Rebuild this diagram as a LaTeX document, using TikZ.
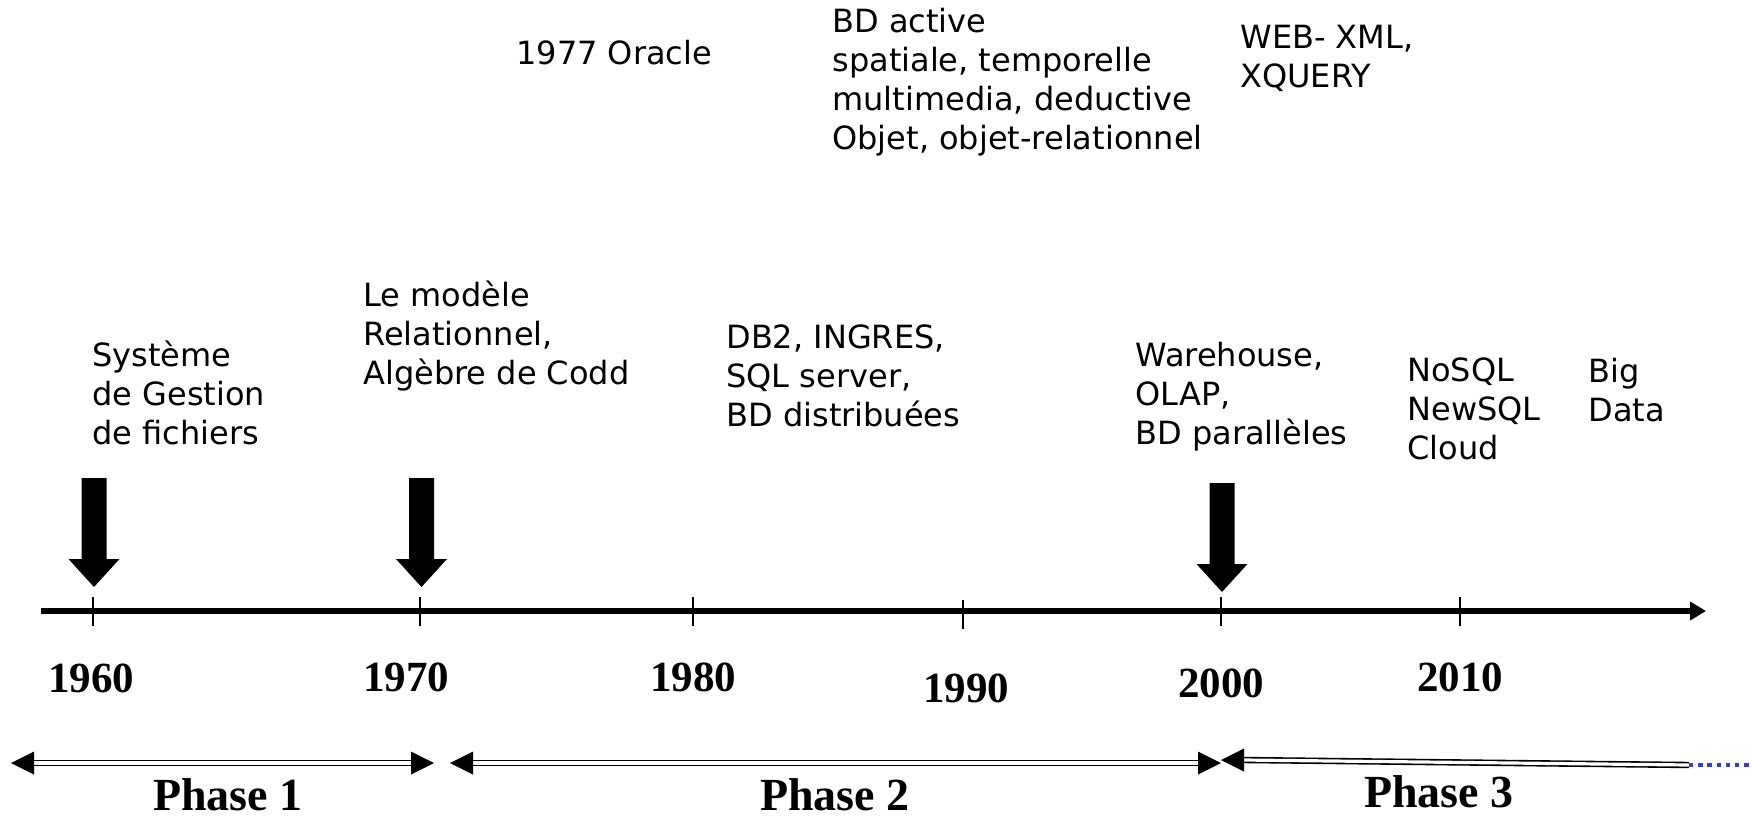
\documentclass[tikz,border=0pt]{standalone}
\usepackage{fontspec}
\setmainfont{DejaVu Sans}
\newfontfamily\tnr{Liberation Serif}
\usetikzlibrary{arrows.meta}
\definecolor{dotblue}{RGB}{55,60,205}
\begin{document}
\begin{tikzpicture}[x=0.5pt,y=-0.5pt,
  lbl/.style={anchor=base west, inner sep=0pt, font=\fontsize{16}{19.5}\selectfont},
  yearlbl/.style={inner sep=0pt, font=\tnr\bfseries\fontsize{21.5}{24}\selectfont},
  phaselbl/.style={inner sep=0pt, font=\tnr\bfseries\fontsize{23}{26}\selectfont},
  tickmark/.style={line width=1pt},
  phasearrow/.style={double, line width=0.8pt, double distance=1.6pt},
  downarrow/.pic={\fill (-12.5,-109) -- (12.5,-109) -- (12.5,-28) -- (25.5,-28) -- (0,0) -- (-25.5,-28) -- (-12.5,-28) -- cycle;}
]
\useasboundingbox (0,0) rectangle (1752,819);

% upper labels
\node[lbl] (oracle) at (516,64) {1977 Oracle};
\node[lbl] (bdact) at (832,32.5) {\begin{tabular}[t]{@{}l@{}}BD active\\spatiale, temporelle\\multimedia, deductive\\Objet, objet-relationnel\end{tabular}};
\node[lbl] (web) at (1240,48.5) {\begin{tabular}[t]{@{}l@{}}WEB- XML,\\XQUERY\end{tabular}};

% lower labels
\node[lbl] (sgf) at (92,366.5) {\begin{tabular}[t]{@{}l@{}}Système\\de Gestion\\de fichiers\end{tabular}};
\node[lbl] (rel) at (363,306.5) {\begin{tabular}[t]{@{}l@{}}Le modèle\\Relationnel,\\Algèbre de Codd\end{tabular}};
\node[lbl] (db2) at (726,348.5) {\begin{tabular}[t]{@{}l@{}}DB2, INGRES,\\SQL server,\\BD distribuées\end{tabular}};
\node[lbl] (wh) at (1135,366.5) {\begin{tabular}[t]{@{}l@{}}Warehouse,\\OLAP,\\BD parallèles\end{tabular}};
\node[lbl] (nosql) at (1407,381.5) {\begin{tabular}[t]{@{}l@{}}NoSQL\\NewSQL\\Cloud\end{tabular}};
\node[lbl] (big) at (1588,382.5) {\begin{tabular}[t]{@{}l@{}}Big\\Data\end{tabular}};

% block arrows
\pic at (94,587) {downarrow};
\pic at (421.5,587) {downarrow};
\pic at (1222,592) {downarrow};

% timeline
\coordinate (tl0) at (41,611);
\coordinate (tl1) at (1706,611);
\draw[line width=3pt, -{Triangle[length=8pt,width=9pt]}] (tl0) -- (tl1);
\foreach \x/\d in {93/0,420/0,693/0,963/3,1221/0,1460/0}
  \draw[tickmark] (\x,597+\d) -- (\x,626+\d);

% years
\node[yearlbl] (y1960) at (91,678) {1960};
\node[yearlbl] (y1970) at (406,677) {1970};
\node[yearlbl] (y1980) at (693,677) {1980};
\node[yearlbl] (y1990) at (966,688) {1990};
\node[yearlbl] (y2000) at (1221,683) {2000};
\node[yearlbl] (y2010) at (1460,677) {2010};

% phases
\coordinate (p1l) at (11,763);
\coordinate (p1r) at (434,763);
\coordinate (p2l) at (450,763);
\coordinate (p2r) at (1221,763);
\coordinate (p3l) at (1221,760);
\coordinate (p3r) at (1689,765);
\coordinate (p3e) at (1752,765);
\draw[phasearrow] ([xshift=11pt]p1l) -- ([xshift=-11pt]p1r);
\fill (p1l) -- ++(23,-11.5) -- ++(0,23) -- cycle;
\fill (p1r) -- ++(-23,-11.5) -- ++(0,23) -- cycle;
\draw[phasearrow] ([xshift=11pt]p2l) -- ([xshift=-11pt]p2r);
\fill (p2l) -- ++(23,-11.5) -- ++(0,23) -- cycle;
\fill (p2r) -- ++(-23,-11.5) -- ++(0,23) -- cycle;
\draw[phasearrow] ([xshift=11pt]p3l) -- (p3r);
\fill (p3l) -- ++(23,-11.5) -- ++(0,23) -- cycle;
\draw[dotblue, line width=2.2pt, dash pattern=on 2.2pt off 2.4pt] (p3r) -- (p3e);

\node[phaselbl] (ph1) at (228,795) {Phase 1};
\node[phaselbl] (ph2) at (835,795) {Phase 2};
\node[phaselbl] (ph3) at (1439,792) {Phase 3};
\end{tikzpicture}
\end{document}
